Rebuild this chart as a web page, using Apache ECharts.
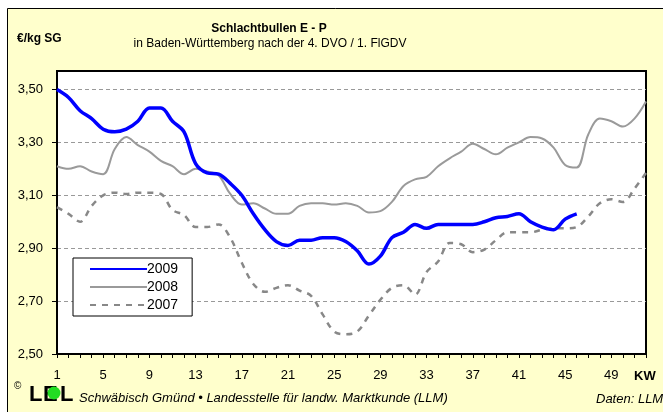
<!DOCTYPE html>
<html>
<head>
<meta charset="utf-8">
<script src="https://cdn.jsdelivr.net/npm/echarts@6/dist/echarts.min.js"></script>
<style>
  html, body { margin: 0; padding: 0; background: #fff; }
  #chart { width: 663px; height: 412px; }
</style>
</head>
<body>
<div id="chart"></div>
<script>
// Kalenderwochen 1..52
const weeks = [];
for (let i = 1; i <= 52; i++) weeks.push(String(i));

// Preise €/kg SG
const y2009 = [3.50, 3.47, 3.42, 3.39, 3.35, 3.34, 3.35, 3.38, 3.43, 3.43,
  3.38, 3.34, 3.22, 3.185, 3.18, 3.145, 3.10, 3.03, 2.97, 2.925,
  2.91, 2.93, 2.93, 2.94, 2.94, 2.925, 2.89, 2.84, 2.87, 2.94,
  2.96, 2.99, 2.975, 2.99, 2.99, 2.99, 2.99, 3.00, 3.015, 3.02,
  3.03, 3.00, 2.98, 2.97, 3.01, 3.03, null, null, null, null, null, null];

const y2008 = [3.21, 3.20, 3.21, 3.19, 3.18, 3.275, 3.32, 3.29, 3.265, 3.23,
  3.21, 3.18, 3.20, 3.19, 3.175, 3.105, 3.065, 3.07, 3.05, 3.03,
  3.03, 3.06, 3.07, 3.07, 3.065, 3.07, 3.06, 3.035, 3.04, 3.075,
  3.135, 3.16, 3.17, 3.21, 3.24, 3.265, 3.295, 3.275, 3.255, 3.28,
  3.30, 3.32, 3.315, 3.28, 3.215, 3.205, 3.33, 3.39, 3.38, 3.36,
  3.39, 3.455];

const y2007 = [3.055, 3.03, 3.00, 3.06, 3.10, 3.11, 3.105, 3.11, 3.11, 3.105,
  3.045, 3.025, 2.98, 2.98, 2.99, 2.94, 2.845, 2.765, 2.735, 2.75,
  2.76, 2.74, 2.72, 2.65, 2.585, 2.575, 2.585, 2.645, 2.705, 2.75,
  2.76, 2.725, 2.81, 2.85, 2.92, 2.915, 2.885, 2.895, 2.93, 2.96,
  2.96, 2.96, 2.97, 2.975, 2.975, 2.98, 3.02, 3.07, 3.085, 3.075,
  3.125, 3.185];

const yTicks = [2.5, 2.7, 2.9, 3.1, 3.3, 3.5];

const FONT = 'Liberation Sans, Arial, sans-serif';
const chart = echarts.init(document.getElementById('chart'));

const fmt = v => {
  const hit = yTicks.find(t => Math.abs(t - v) < 1e-6);
  return hit === undefined ? '' : hit.toFixed(2).replace('.', ',');
};

const option = {
  backgroundColor: '#ffffff',
  animation: false,
  grid: {
    left: 57, right: 17, top: 71, bottom: 58,
    show: true, backgroundColor: '#ffffff',
    borderColor: '#000', borderWidth: 2
  },
  legend: {
    orient: 'vertical',
    left: 73, top: 258,
    backgroundColor: '#ffffff',
    borderColor: '#000', borderWidth: 1,
    borderRadius: 0,
    padding: [4, 14, 4, 16],
    itemWidth: 57, itemHeight: 13, itemGap: 4,
    itemStyle: { opacity: 0 },
    textStyle: { fontFamily: FONT, fontSize: 14, color: '#000', padding: [0, 0, 0, -5] },
    data: ['2009', '2008', '2007']
  },
  xAxis: {
    type: 'category',
    data: weeks,
    boundaryGap: false,
    axisLine: { lineStyle: { color: '#000', width: 1 } },
    axisTick: { interval: 0, length: 4, lineStyle: { color: '#000' } },
    axisLabel: { interval: 3, margin: 15, color: '#000', fontFamily: FONT, fontSize: 13 },
    splitLine: { show: false }
  },
  yAxis: {
    type: 'value',
    min: 2.5, max: 3.57, interval: 0.2,
    axisLine: { show: true, lineStyle: { color: '#000', width: 1 } },
    axisTick: { show: true, length: 5, lineStyle: { color: '#000' } },
    axisLabel: { formatter: fmt, margin: 14, color: '#000', fontFamily: FONT, fontSize: 13, showMaxLabel: false },
    splitLine: { showMinLine: false, showMaxLine: false, lineStyle: { color: '#999', type: [4, 3], width: 1 } }
  },
  series: [
    {
      name: '2009', type: 'line', data: y2009, smooth: 0.35, symbol: 'none', z: 4,
      lineStyle: { color: '#0000ff', width: 3.5 }, itemStyle: { color: '#0000ff' }
    },
    {
      name: '2008', type: 'line', data: y2008, smooth: 0.35, symbol: 'none', z: 3,
      lineStyle: { color: '#9a9a9a', width: 2 }, itemStyle: { color: '#9a9a9a' }
    },
    {
      name: '2007', type: 'line', data: y2007, smooth: 0.35, symbol: 'none', z: 2,
      lineStyle: { color: '#888888', width: 2.5, type: [6, 6] }, itemStyle: { color: '#888888' }
    }
  ],
  graphic: [
    { type: 'rect', z: -10, shape: { x: 7.5, y: 8.5, width: 700, height: 500 },
      style: { fill: '#ffffcc', stroke: '#000', lineWidth: 1 } },
    { type: 'text', x: 269, y: 23, z: 5,
      style: { text: 'Schlachtbullen E - P', font: 'bold 12px ' + FONT, fill: '#000', textAlign: 'center' } },
    { type: 'text', x: 270, y: 38, z: 5,
      style: { text: 'in Baden-Württemberg nach der 4. DVO / 1. FlGDV', font: '12px ' + FONT, fill: '#000', textAlign: 'center' } },
    { type: 'text', x: 17, y: 33, z: 5,
      style: { text: '€/kg SG', font: 'bold 12px ' + FONT, fill: '#000' } },
    { type: 'text', x: 634, y: 370, z: 5,
      style: { text: 'KW', font: 'bold 13px ' + FONT, fill: '#000' } },
    { type: 'text', x: 14, y: 381, z: 5,
      style: { text: '©', font: '10px ' + FONT, fill: '#000' } },
    { type: 'text', x: 29, y: 384, z: 5,
      style: { text: 'L', font: 'bold 22px ' + FONT, fill: '#000' } },
    { type: 'text', x: 43, y: 384, z: 5,
      style: { text: 'E', font: 'bold 22px ' + FONT, fill: '#000' } },
    { type: 'text', x: 60, y: 384, z: 5,
      style: { text: 'L', font: 'bold 22px ' + FONT, fill: '#000' } },
    { type: 'circle', z: 6, shape: { cx: 54, cy: 393, r: 6.5 }, style: { fill: '#22dd22' } },
    { type: 'text', x: 79, y: 392, z: 5,
      style: { text: 'Schwäbisch Gmünd • Landesstelle für landw. Marktkunde (LLM)', font: 'italic 13px ' + FONT, fill: '#000' } },
    { type: 'text', x: 596, y: 393, z: 5,
      style: { text: 'Daten: LLM', font: 'italic 13px ' + FONT, fill: '#000' } }
  ]
};
chart.setOption(option);
</script>
</body>
</html>
